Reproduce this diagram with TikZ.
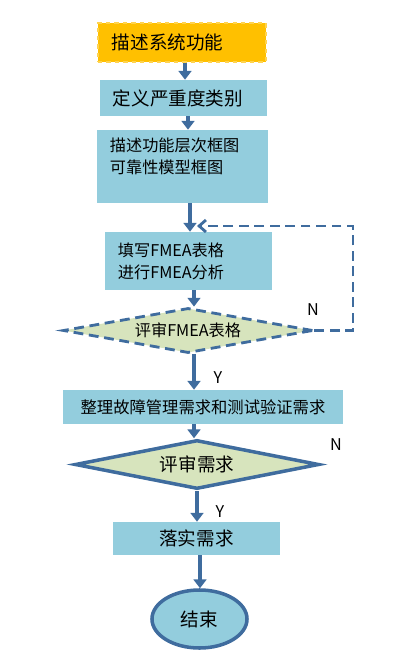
\documentclass[tikz,border=0pt]{standalone}
\usepackage{fontspec}
\setmainfont{Noto Sans CJK SC}
\usetikzlibrary{shapes.geometric,arrows.meta}
\definecolor{boxblue}{HTML}{93CDDD}
\definecolor{linkblue}{HTML}{3F6C9E}
\definecolor{revgreen}{HTML}{D7E4BD}
\definecolor{sysyellow}{HTML}{FFC000}
\definecolor{sysedge}{HTML}{FFD34F}
\begin{document}
\begin{tikzpicture}[x=0.025cm,y=-0.025cm,
    stepbox/.style={rectangle,fill=boxblue,inner sep=0pt,font=\fontsize{13.2}{16}\selectfont},
    leftbox/.style={stepbox,align=left,font=\fontsize{11.5}{15.5}\selectfont},
    check/.style={diamond,fill=revgreen,draw=linkblue,inner sep=0pt},
    flow/.style={draw=linkblue,line width=3.5pt,-{Triangle[width=0.32cm,length=0.22cm]}},
    back/.style={draw=linkblue,line width=2pt,dash pattern=on 7pt off 4pt,-{Straight Barb[width=0.3cm,length=0.17cm]}},
    yn/.style={font=\fontsize{11.5}{14}\selectfont}]
                \useasboundingbox (0, 0) rectangle (412, 656);
                \node[stepbox, fill=sysyellow, draw=sysedge, dashed, line width=1pt, minimum width=4.2cm, minimum height=0.975cm, text width=3.5cm, align=left] (sys) at (182, 42.5) {描述系统功能};
                \node[stepbox, minimum width=4.175cm, minimum height=0.9cm, text width=3.525cm, align=left] (sev) at (183.5, 98) {定义严重度类别};
                \node[leftbox, minimum width=4.275cm, minimum height=1.825cm, text width=3.625cm] (blk) at (182.5, 166.5) {描述功能层次框图\\可靠性模型框图\\~};
                \node[leftbox, minimum width=4.175cm, minimum height=1.45cm, text width=3.525cm] (fill) at (188.5, 261) {填写FMEA表格\\进行FMEA分析};
                \node[check, dashed, dash pattern=on 7pt off 4pt, line width=2pt, aspect=5.5, minimum width=6.25cm, minimum height=1.125cm, font=\fontsize{11.5}{14}\selectfont] (rev1) at (188, 330.5) {评审FMEA表格};
                \node[stepbox, minimum width=7cm, minimum height=0.85cm, font=\fontsize{11.6}{14}\selectfont] (req) at (203, 407) {整理故障管理需求和测试验证需求};
                \node[check, line width=2.5pt, aspect=5, minimum width=6.1cm, minimum height=1.225cm, font=\fontsize{13.2}{16}\selectfont] (rev2) at (197, 464.5) {评审需求};
                \node[stepbox, minimum width=4.175cm, minimum height=0.825cm] (done) at (196.5, 538.5) {落实需求};
                \node[ellipse, fill=boxblue, draw=linkblue, line width=2.5pt, inner sep=0pt, minimum width=2.375cm, minimum height=1.45cm, font=\fontsize{13.2}{16}\selectfont] (end) at (199.5, 619) {结束};
                \draw[flow] (sys.south -| 185,0) -- (sev.north -| 185,0);
                \draw[flow] (sev.south -| 188,0) -- (blk.north -| 188,0);
                \draw[flow] (blk.south -| 190,0) -- (fill.north -| 190,0);
                \draw[flow] (fill.south -| 194,0) -- (rev1.north -| 194,0);
                \draw[flow] (rev1.south -| 194,0) -- (req.north -| 194,0);
                \draw[flow] (req.south -| 194,0) -- (rev2.north -| 194,0);
                \draw[flow] (rev2.south -| 197,0) -- (done.north -| 197,0);
                \draw[flow] (done.south -| 200,0) -- (end.north -| 200,0);
                \coordinate (loop) at (197, 226);
                \draw[back] (rev1.east) -- (353,0 |- rev1.east) |- (loop);
                \node[yn] (no1) at (313, 310) {N};
                \node[yn] (no2) at (336, 445) {N};
                \node[yn] (yes1) at (218, 378) {Y};
                \node[yn] (yes2) at (220, 512) {Y};
\end{tikzpicture}
\end{document}
